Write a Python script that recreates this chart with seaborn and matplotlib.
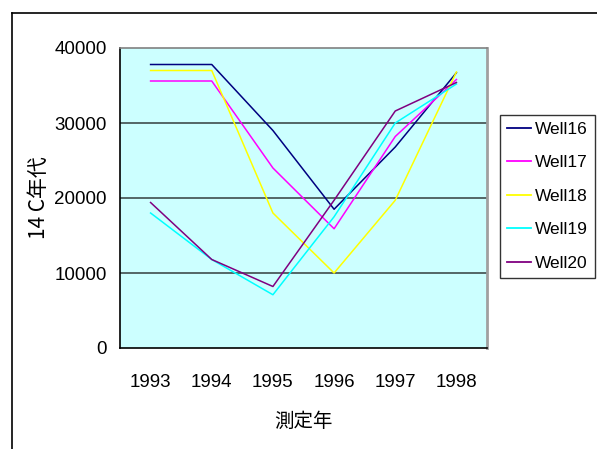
import pandas as pd
import seaborn as sns
import matplotlib
import matplotlib.pyplot as plt
from matplotlib.lines import Line2D
matplotlib.use('Agg')

# chart data
years = ['1993', '1994', '1995', '1996', '1997', '1998']
well16 = [37800, 37800, 29000, 18500, 26800, 36700]
well17 = [35600, 35600, 24000, 15900, 28200, 35800]
well18 = [37000, 37000, 18000, 10000, 19700, 36800]
well19 = [18000, 11800, 7100, 17500, 30000, 35200]
well20 = [19400, 11800, 8200, 19700, 31600, 35400]
wells = ['Well16', 'Well17', 'Well18', 'Well19', 'Well20']
colors = ['#000080', '#FF00FF', '#FFFF00', '#00FFFF', '#800080']

plt.rcParams['font.family'] = ['Liberation Sans', 'Noto Sans CJK JP']

# long-form table
df = pd.DataFrame({'year': years, 'Well16': well16, 'Well17': well17,
                   'Well18': well18, 'Well19': well19, 'Well20': well20})
df = df.melt(id_vars='year', var_name='well', value_name='age')

fig = plt.figure(figsize=(5.97, 4.49), dpi=100)
ax = fig.add_axes([120 / 597, 1 - 348 / 449, 367 / 597, 300 / 449])
ax.set_facecolor('#CCFFFF')

sns.lineplot(data=df, x='year', y='age', hue='well', hue_order=wells,
             palette=colors, linewidth=1.1, ax=ax, legend=False, sort=False)

ax.set_xlim(-0.5, 5.5)
ax.set_ylim(0, 40000)
ax.set_yticks([0, 10000, 20000, 30000, 40000])
ax.set_yticklabels(['0', '10000', '20000', '30000', '40000'])
for v in [10000, 20000, 30000]:
    ax.axhline(v, color='#4a5a5a', linewidth=1.3, zorder=1)

ax.tick_params(axis='y', length=0, pad=9.5, labelsize=13.5)
ax.tick_params(axis='x', length=0, pad=18.5, labelsize=13.5)

ax.spines['left'].set_color('black')
ax.spines['bottom'].set_color('black')
ax.spines['top'].set_color('#808080')
ax.spines['right'].set_color('#a0a0a0')
ax.spines['right'].set_linewidth(2)
for s in ['left', 'bottom', 'top']:
    ax.spines[s].set_linewidth(1.2)

ax.set_xlabel('測定年', fontsize=14, family=['Noto Sans CJK JP'])
ax.xaxis.set_label_coords(0.5, -0.21)
ax.set_ylabel('14 C年代', fontsize=15, family=['Noto Sans CJK JP'])
ax.yaxis.set_label_coords(-0.19, 0.5)

# legend on the right
handles = [Line2D([], [], color=c, linewidth=1.3) for c in colors]
leg = fig.legend(handles, wells, loc='upper left',
                 bbox_to_anchor=(500 / 597, 1 - 115 / 449),
                 bbox_transform=fig.transFigure, borderaxespad=0,
                 fontsize=12.5, frameon=True, fancybox=False,
                 edgecolor='black', handlelength=1.4, handletextpad=0.2,
                 labelspacing=1.05, borderpad=0.4)
leg.get_frame().set_linewidth(1.0)

# outer chart frame (top and left edges visible)
x0 = 12 / 597
y0 = 1 - 13 / 449
fig.add_artist(Line2D([x0, x0], [0, y0], color='black', linewidth=1.2,
                      transform=fig.transFigure))
fig.add_artist(Line2D([x0, 1], [y0, y0], color='black', linewidth=1.2,
                      transform=fig.transFigure))

fig.savefig('out.png', dpi=100)
